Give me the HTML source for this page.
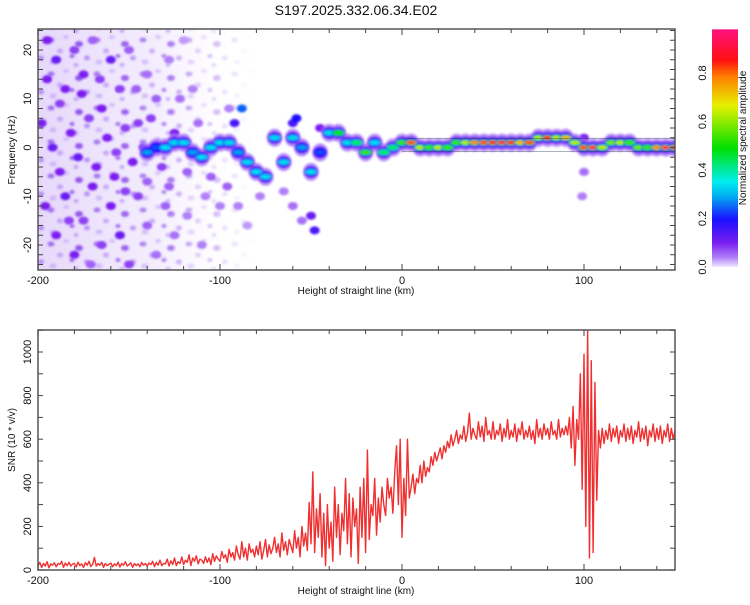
<!DOCTYPE html>
<html><head><meta charset="utf-8"><style>
body{margin:0;background:#fff;}
svg text{font-family:"Liberation Sans",sans-serif;fill:#111;}
</style></head><body>
<svg id="chart" width="750" height="600" viewBox="0 0 750 600" xmlns="http://www.w3.org/2000/svg">
<defs>
<clipPath id="clipTop"><rect x="38" y="29" width="637" height="241"/></clipPath>
<clipPath id="clipBot"><rect x="38" y="330" width="637" height="240"/></clipPath>
<linearGradient id="cbar" x1="0" y1="1" x2="0" y2="0">
<stop offset="0" stop-color="#f1e8ff"/><stop offset="0.04" stop-color="#b080f8"/><stop offset="0.1" stop-color="#7a1ff0"/>
<stop offset="0.2" stop-color="#1a10ff"/><stop offset="0.3" stop-color="#00b0f0"/><stop offset="0.36" stop-color="#00eeee"/>
<stop offset="0.5" stop-color="#00e000"/><stop offset="0.68" stop-color="#e8f000"/><stop offset="0.8" stop-color="#ff8000"/>
<stop offset="0.87" stop-color="#ff1010"/><stop offset="1" stop-color="#ff1080"/>
</linearGradient>
<linearGradient id="noiseFade" x1="0" y1="0" x2="1" y2="0">
<stop offset="0" stop-color="#c9a8f5" stop-opacity="0.45"/><stop offset="0.6" stop-color="#d8c2f8" stop-opacity="0.3"/><stop offset="1" stop-color="#e8dcfb" stop-opacity="0"/>
</linearGradient>
<linearGradient id="dotFade" x1="0" y1="0" x2="1" y2="0">
<stop offset="0" stop-color="#fff" stop-opacity="1"/><stop offset="0.55" stop-color="#fff" stop-opacity="0.8"/><stop offset="1" stop-color="#fff" stop-opacity="0"/>
</linearGradient>
<mask id="dotMask"><rect x="38" y="29" width="220" height="241" fill="url(#dotFade)"/></mask>
<pattern id="speckle" width="46" height="34" patternUnits="userSpaceOnUse">
<ellipse cx="5" cy="6" rx="3.5" ry="2.5" fill="#a070ee"/><ellipse cx="20" cy="3" rx="3" ry="2" fill="#d2b8fa"/>
<ellipse cx="33" cy="10" rx="4" ry="3" fill="#8e50ec"/><ellipse cx="14" cy="17" rx="3" ry="2.5" fill="#c3a0f7"/>
<ellipse cx="41" cy="24" rx="3" ry="2.5" fill="#b58cf4"/><ellipse cx="26" cy="22" rx="2.5" ry="2" fill="#9a60ee"/>
<ellipse cx="7" cy="28" rx="3.5" ry="2.5" fill="#d0b4fa"/><ellipse cx="30" cy="31" rx="2.5" ry="2" fill="#c0a0f6"/>
</pattern>
<filter id="soft"><feGaussianBlur stdDeviation="1.1"/></filter>
</defs>
<text x="356" y="15" font-size="14" text-anchor="middle">S197.2025.332.06.34.E02</text>
<g id="topPanel"></g>
<g id="botPanel"></g>
<g id="cbPanel"></g>
</svg>
<script>
// ---- SNR data (1 km steps from -200 to 150) ----
const snrStart = -200;
const snrValues = [
20,35,12,30,18,38,10,28,22,33, 15,30,25,40,12,32,20,35,18,27, 30,14,36,20,28,12,34,22,40,16,
25,58,18,30,22,35,12,30,20,26, 32,15,28,20,36,14,30,22,38,18, 25,33,12,30,20,28,15,35,22,30,
18,32,25,40,15,35,22,45,20,30, 28,50,18,42,25,55,20,38,30,60, 25,45,35,70,20,55,40,65,28,50,
45,30,60,35,55,25,75,40,65,50, 40,85,55,70,35,95,60,80,45,110, 70,50,130,60,100,45,120,80,95,60,
110,70,130,50,90,140,60,115,75,100, 150,80,120,60,170,90,130,70,140,110, 80,180,100,150,60,200,110,170,90,310,
120,450,80,280,150,350,60,260,20,300, 100,220,40,380,150,300,70,260,180,420, 120,350,60,330,200,280,30,380,150,420,
80,550,140,300,250,420,160,330,220,380, 300,250,420,330,380,260,450,570,300,600, 150,420,250,600,330,380,440,350,420,400,
480,400,500,430,470,450,520,480,540,500, 530,560,510,570,540,590,560,620,570,600, 640,580,620,600,660,590,630,720,600,650,
620,600,680,610,660,590,700,620,640,600, 680,600,640,620,670,590,650,610,690,600, 640,610,670,590,650,620,680,600,640,610,
660,600,640,580,690,610,650,600,670,620, 650,600,680,620,640,600,690,610,650,620, 660,620,700,560,750,480,690,600,900,370,
990,200,1100,55,960,80,860,320,640,560, 650,580,640,600,670,590,650,610,660,580, 640,610,670,590,650,600,660,580,640,610,
680,590,650,600,660,570,640,610,670,590, 650,600,660,580,640,610,670,590,650,600,640];
const xTicks = [-200,-100,0,100];
const snrTicks = [0,200,400,600,800,1000];
const freqTicks = [-20,-10,0,10,20];
const cbTicks = [0,0.2,0.4,0.6,0.8];
// ---- spectrogram ridge ----
const ridgeX = [-140,-135,-130,-125,-120,-115,-110,-105,-100,-95,-90,-85,-80,-75,-70,-65,-60,-55,-50,-45,-40,-35,-30,-25,-20,-15,-10,-5,0,5,10,15,20,25,30,35,40,45,50,55,60,65,70,75,80,85,90,95,100,105,110,115,120,125,130,135,140,145,150];
const ridgeF = [-1,0,0,1,1,-1,-2,0,1,1,-1,-3,-5,-6,2,-3,2,0,-5,-1,3,3,1,1,-1,1,-1,0,1,1,0,0,0,0,1,1,1,1,1,1,1,1,1,2,2,2,2,1,0,0,0,1,1,1,0,0,0,0,0];
const ridgeA = [.25,.2,.3,.3,.3,.25,.3,.3,.3,.3,.25,.3,.3,.3,.3,.3,.3,.25,.3,.2,.3,.45,.3,.4,.5,.3,.4,.4,.5,.8,.6,.5,.6,.5,.5,.6,.75,.8,.85,.9,.85,.7,.8,.6,.85,.6,.7,.6,.8,.9,.6,.55,.6,.5,.55,.5,.75,.9,.9];
// ---- scattered noise blobs ----
const noiseX = [-195,-190,-185,-180,-175,-170,-165,-160,-155,-150,-145,-140,-135,-128,-120,-115,-198,-192,-188,-182,-178,-172,-168,-162,-158,-152,-148,-142,-138,-132,-125,-118,-112,-105,-196,-190,-185,-180,-175,-170,-165,-160,-155,-150,-145,-140,-135,-130,-125,-118,-110,-100,-195,-188,-176,-166,-157,-146,-183,-171,-152,-140,-128,-122,-108,-95,-96,-90,-85,-78,-65,-60,-55,-48,-50,-88,-92,-60,-58,-45,100,100,99];
const noiseF = [22,18,12,20,15,22,8,18,12,20,5,15,10,18,22,12,5,0,-5,3,-2,6,-4,2,-6,4,-3,0,6,-4,3,-5,5,-6,-12,-18,-10,-22,-15,-8,-20,-12,-18,-24,-10,-16,-22,-12,-18,-14,-20,-12,14,9,11,14,-1,12,-15,-24,-9,-7,-8,10,-10,8,-8,-12,-16,-10,-9,-12,-15,-17,-14,8,5,5,6,4,2,-5,-10];
const noiseA = [.1,.12,.1,.08,.1,.06,.1,.12,.08,.06,.08,.05,.06,.04,.03,.04,.1,.12,.1,.1,.12,.08,.1,.1,.1,.08,.1,.12,.08,.08,.1,.06,.05,.06,.1,.1,.12,.1,.08,.1,.08,.1,.12,.08,.08,.06,.05,.06,.05,.04,.04,.04,.1,.08,.1,.08,.08,.06,.08,.06,.08,.06,.06,.05,.04,.04,.06,.04,.03,.04,.04,.05,.05,.15,.12,.25,.15,.15,.2,.1,.1,.05,.04];

const NS='http://www.w3.org/2000/svg';
function mk(tag, attrs, parent){const e=document.createElementNS(NS,tag);for(const k in attrs)e.setAttribute(k,attrs[k]);parent.appendChild(e);return e;}
const X0=38,X1=675;
const xs = v => X0 + (v+200)*(X1-X0)/350;
const fy = f => 147.5 - f*4.875;
const sy = v => 570 - v*0.218;
const cby = a => 267 - a*242.5;
const stops=[[0,[241,232,255]],[0.04,[176,128,248]],[0.1,[122,31,240]],[0.2,[26,16,255]],[0.3,[0,176,240]],[0.36,[0,238,238]],[0.5,[0,224,0]],[0.68,[232,240,0]],[0.8,[255,128,0]],[0.87,[255,16,16]],[1,[255,16,128]]];
function cmap(a){for(let i=1;i<stops.length;i++){if(a<=stops[i][0]){const p0=stops[i-1][0],c0=stops[i-1][1],p1=stops[i][0],c1=stops[i][1];const tt=(a-p0)/(p1-p0);return 'rgb('+c0.map((c,j)=>Math.round(c+(c1[j]-c)*tt)).join(',')+')';}}return 'rgb(255,16,128)';}

// ---------- TOP PANEL ----------
const topPanel=document.getElementById('topPanel');
const tg=mk('g',{'clip-path':'url(#clipTop)'},topPanel);
const nf=mk('rect',{x:xs(-200),y:29,width:xs(-95)-xs(-200),height:241,fill:'url(#noiseFade)'},tg);


const sp=mk('rect',{x:38,y:29,width:220,height:241,fill:'url(#speckle)',mask:'url(#dotMask)',filter:'url(#soft)'},tg);


const blobG=mk('g',{filter:'url(#soft)'},tg);
for(let i=0;i<noiseX.length;i++){
  const b=mk('ellipse',{cx:xs(noiseX[i]),cy:fy(noiseF[i]),rx:5,ry:4,fill:cmap(noiseA[i])},blobG);
  
  
}
for(let i=0;i<ridgeX.length;i++){
  const h=mk('ellipse',{cx:xs(ridgeX[i]),cy:fy(ridgeF[i]),rx:8,ry:9,fill:cmap(0.05),opacity:0.8},blobG);
  
  
}
for(let i=0;i<ridgeX.length;i++){
  const h=mk('ellipse',{cx:xs(ridgeX[i]),cy:fy(ridgeF[i]),rx:7,ry:6,fill:cmap(0.12)},blobG);
  
  
}
for(let i=0;i<ridgeX.length;i++){
  const a=ridgeA[i];
  const c1=mk('ellipse',{cx:xs(ridgeX[i]),cy:fy(ridgeF[i]),rx:6.5,ry:4.5,fill:cmap(Math.min(a,0.2))},blobG);
  
  
  const c2=mk('ellipse',{cx:xs(ridgeX[i]),cy:fy(ridgeF[i]),rx:6,ry:3,fill:cmap(Math.min(a,0.45))},blobG);
  
  
  const c3=mk('ellipse',{cx:xs(ridgeX[i]),cy:fy(ridgeF[i]),rx:5,ry:2,fill:cmap(Math.min(1,a+0.04))},blobG);
  
  
}
// thin dark band edges (0..150 km)
[1.8,-0.8].forEach(f=>{const l=mk('line',{x1:xs(0),y1:fy(f),x2:xs(150),y2:fy(f),stroke:'#203040','stroke-width':0.6,opacity:0.6},tg);
  
  });
function frame(g,y0,y1,minX,yMinor,ymap,yMin,yMax){
  const r=mk('rect',{x:X0,y:y0,width:X1-X0,height:y1-y0,fill:'none',stroke:'#555','stroke-width':1.5},g);
  
  
  for(let v=-200;v<=150;v+=minX){const x=xs(v);const L=(v%100===0)?6:4;
    mk('line',{x1:x,y1:y1,x2:x,y2:y1-L,stroke:'#444'},g);mk('line',{x1:x,y1:y0,x2:x,y2:y0+L,stroke:'#444'},g);}
  for(let v=yMin;v<=yMax;v+=yMinor){const y=ymap(v);if(y<y0||y>y1)continue;
    mk('line',{x1:X0,y1:y,x2:X0+5,y2:y,stroke:'#444'},g);mk('line',{x1:X1,y1:y,x2:X1-5,y2:y,stroke:'#444'},g);}
}
frame(topPanel,29,270,20,2,fy,-24,24);
xTicks.forEach(v=>{const e=mk('text',{x:xs(v),y:284,'font-size':11,'text-anchor':'middle'},topPanel);e.textContent=v;
  
  });
freqTicks.forEach(v=>{const e=mk('text',{x:0,y:0,'font-size':11,'text-anchor':'middle',transform:'translate(31,'+fy(v)+') rotate(-90)'},topPanel);e.textContent=v;
  
  });
let lbl=mk('text',{x:356,y:294,'font-size':10,'text-anchor':'middle'},topPanel);lbl.textContent='Height of straight line (km)';


lbl=mk('text',{x:0,y:0,'font-size':10,'text-anchor':'middle',transform:'translate(15,150) rotate(-90)'},topPanel);lbl.textContent='Frequency (Hz)';



// ---------- COLORBAR ----------
const cbPanel=document.getElementById('cbPanel');
const cr=mk('rect',{x:712,y:cby(0.98),width:26,height:cby(0)-cby(0.98),fill:'url(#cbar)'},cbPanel);


cbTicks.forEach(v=>{const e=mk('text',{x:0,y:0,'font-size':11,'text-anchor':'middle',transform:'translate(706,'+cby(v)+') rotate(-90)'},cbPanel);e.textContent=v.toFixed(1);
  
  });
lbl=mk('text',{x:0,y:0,'font-size':10,'text-anchor':'middle',transform:'translate(746,138) rotate(-90)'},cbPanel);lbl.textContent='Normalized spectral amplitude';



// ---------- BOTTOM PANEL ----------
const botPanel=document.getElementById('botPanel');
const bg=mk('g',{'clip-path':'url(#clipBot)'},botPanel);
let d='';
snrValues.forEach((v,i)=>{d+=(i?'L':'M')+xs(snrStart+i).toFixed(2)+' '+sy(v).toFixed(2);});
const ln=mk('path',{d:d,fill:'none',stroke:'#f03030','stroke-width':1.4,'stroke-linejoin':'round'},bg);


frame(botPanel,330,570,20,100,sy,0,1100);
xTicks.forEach(v=>{const e=mk('text',{x:xs(v),y:584,'font-size':11,'text-anchor':'middle'},botPanel);e.textContent=v;
  
  });
snrTicks.forEach(v=>{const e=mk('text',{x:0,y:0,'font-size':11,'text-anchor':'middle',transform:'translate(31,'+sy(v)+') rotate(-90)'},botPanel);e.textContent=v;
  
  });
lbl=mk('text',{x:356,y:594,'font-size':10,'text-anchor':'middle'},botPanel);lbl.textContent='Height of straight line (km)';


lbl=mk('text',{x:0,y:0,'font-size':10,'text-anchor':'middle',transform:'translate(15,440) rotate(-90)'},botPanel);lbl.textContent='SNR (10 * v/v)';


</script>
</body></html>
